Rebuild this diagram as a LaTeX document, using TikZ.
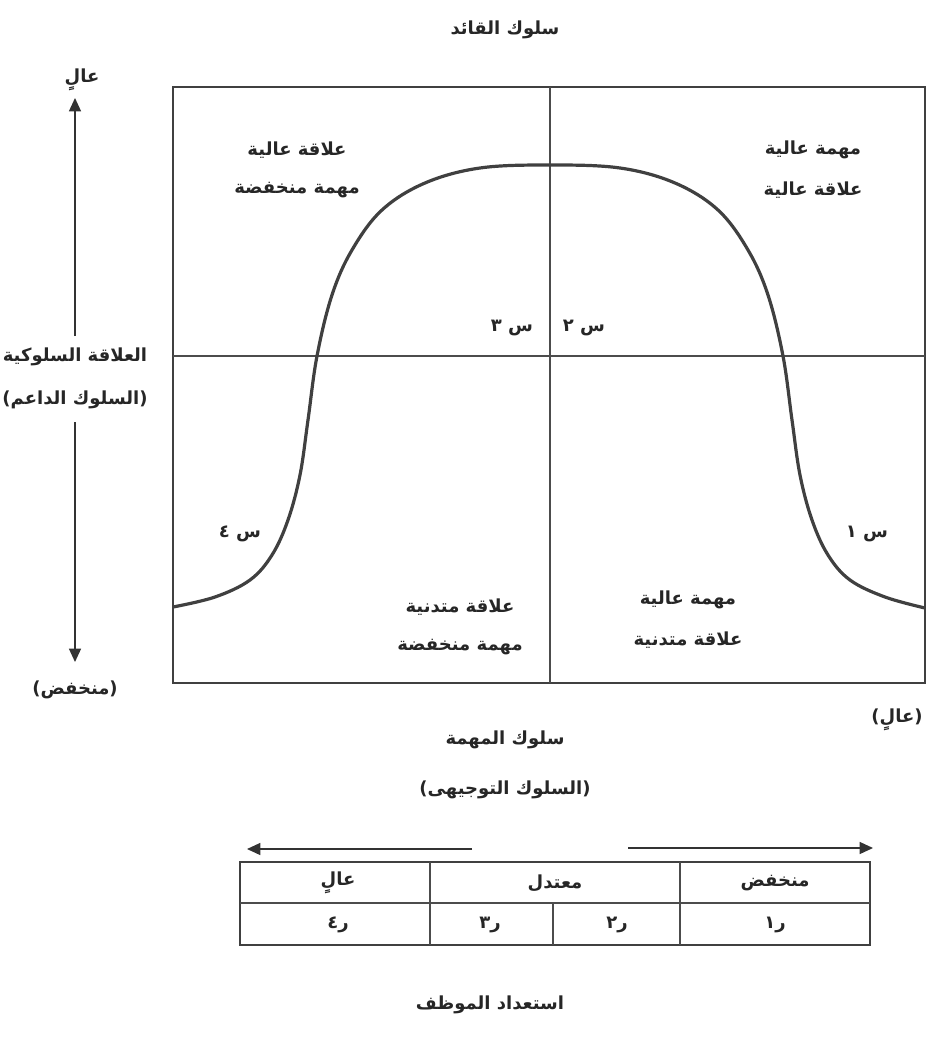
\documentclass[tikz,border=0pt]{standalone}
\usepackage{fontspec}
\TeXXeTstate=1
\newfontfamily\arabicfont[Script=Arabic]{DejaVu Sans}
\usetikzlibrary{arrows.meta}
\begin{document}
\begin{tikzpicture}[x=0.75pt,y=-0.75pt,
  lbl/.style={font=\arabicfont\bfseries\fontsize{13.5}{16}\selectfont, inner sep=1pt, text=black!85},
  frame/.style={draw=black!75, line width=1.2pt},
  grid/.style={draw=black!70, line width=0.9pt},
  curve/.style={draw=black!75, line width=2.4pt},
  arr/.style={draw=black!80, line width=1pt, -{Triangle[length=10pt,width=9pt]}}]
\useasboundingbox (0,0) rectangle (930,1043);
% title
\node[lbl] (title) at (505,30) {\beginR سلوك القائد\endR};
% main box
\draw[frame] (173,87) rectangle (925,683);
\coordinate (vt) at (550,87); \coordinate (vb) at (550,683);
\coordinate (hl) at (173,356); \coordinate (hr) at (925,356);
\draw[grid] (vt) -- (vb);
\draw[grid] (hl) -- (hr);
% bell curve
\draw[curve] plot[smooth, tension=0.6] coordinates {(173,607) (215,597) (250,580) (272,555) (288,520) (300,475) (308,420) (317,356) (332,295) (352,250) (382,210) (425,183) (480,168) (550,165) (620,168) (675,183) (718,210) (748,250) (768,295) (783,356) (792,420) (800,475) (812,520) (828,555) (850,580) (885,597) (925,608)};
% left axis
\node[lbl] (high) at (82,80) {\beginR عالٍ\endR};
\node[lbl] (rel) at (75,357) {\beginR العلاقة السلوكية\endR};
\node[lbl] (sup) at (75,400) {\beginR (السلوك الداعم)\endR};
\node[lbl] (low) at (75,690) {\beginR (منخفض)\endR};
\coordinate (at) at (75,98); \coordinate (ab) at (75,662);
\coordinate (a1) at (75,336); \coordinate (a2) at (75,422);
\draw[arr] (a1) -- (at);
\draw[arr] (a2) -- (ab);
% quadrant labels
\node[lbl] (q1a) at (297,150) {\beginR علاقة عالية\endR};
\node[lbl] (q1b) at (297,190) {\beginR مهمة منخفضة\endR};
\node[lbl] (q2a) at (813,150) {\beginR مهمة عالية\endR};
\node[lbl] (q2b) at (813,190) {\beginR علاقة عالية\endR};
\node[lbl] (q3a) at (460,607) {\beginR علاقة متدنية\endR};
\node[lbl] (q3b) at (460,647) {\beginR مهمة منخفضة\endR};
\node[lbl] (q4a) at (688,600) {\beginR مهمة عالية\endR};
\node[lbl] (q4b) at (688,640) {\beginR علاقة متدنية\endR};
% style labels
\node[lbl] (s3) at (512,328) {\beginR س ٣\endR};
\node[lbl] (s2) at (584,328) {\beginR س ٢\endR};
\node[lbl] (s4) at (240,534) {\beginR س ٤\endR};
\node[lbl] (s1) at (867,534) {\beginR س ١\endR};
% bottom axis
\node[lbl] (xhigh) at (897,720) {\beginR (عالٍ)\endR};
\node[lbl] (task) at (505,740) {\beginR سلوك المهمة\endR};
\node[lbl] (dir) at (505,790) {\beginR (السلوك التوجيهى)\endR};
% readiness arrows
\coordinate (la1) at (472,849); \coordinate (la2) at (247,849);
\coordinate (ra1) at (628,848); \coordinate (ra2) at (873,848);
\draw[arr] (la1) -- (la2);
\draw[arr] (ra1) -- (ra2);
% table
\draw[frame] (240,862) rectangle (870,945);
\draw[grid] (240,903) -- (870,903);
\draw[grid] (430,862) -- (430,945);
\draw[grid] (680,862) -- (680,945);
\draw[grid] (553,903) -- (553,945);
\node[lbl] (c1) at (338,883) {\beginR عالٍ\endR};
\node[lbl] (c2) at (555,883) {\beginR معتدل\endR};
\node[lbl] (c3) at (775,883) {\beginR منخفض\endR};
\node[lbl] (r4) at (338,925) {\beginR ر٤\endR};
\node[lbl] (r3) at (490,925) {\beginR ر٣\endR};
\node[lbl] (r2) at (617,925) {\beginR ر٢\endR};
\node[lbl] (r1) at (775,925) {\beginR ر١\endR};
\node[lbl] (ready) at (490,1005) {\beginR استعداد الموظف\endR};
\end{tikzpicture}
\end{document}
